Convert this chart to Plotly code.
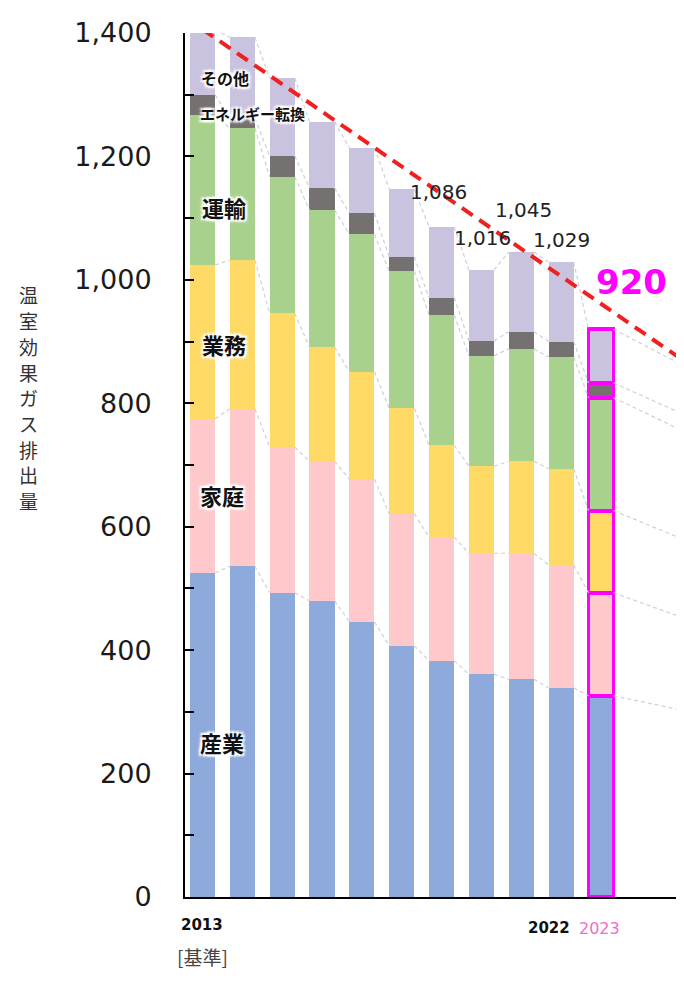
import plotly.graph_objects as go

# ---- data ----
years = [2013, 2014, 2015, 2016, 2017, 2018, 2019, 2020, 2021, 2022, 2023]
next_year = 2030  # bar beyond the visible window (only its connector lines show)

industry  = [525, 536, 493, 480, 446, 407, 383, 361, 353, 339, 326]
household = [250, 255, 236, 226, 231, 214, 200, 196, 204, 199, 167]
business  = [249, 241, 217, 185, 174, 171, 149, 141, 149, 156, 133]
transport = [243, 214, 221, 222, 223, 222, 211, 179, 182, 181, 183]
energy    = [33, 16, 34, 36, 34, 23, 28, 24, 28, 25, 24]
other     = [106, 131, 126, 107, 106, 110, 115, 115, 129, 129, 87]

next_values = {"産業": 240, "家庭": 105, "業務": 112, "運輸": 155, "エネルギー転換": 36, "その他": 58}

labelled_years = [2013, 2019, 2020, 2021, 2022]
path_years = [2013, 2030]
path_values = [1406, 650]

series_names = ["産業", "家庭", "業務", "運輸", "エネルギー転換", "その他"]
series_values = [industry, household, business, transport, energy, other]
series_colors = ["#8EA9DB", "#FFC9CC", "#FFD966", "#A9D18E", "#767171", "#C9C3DF"]

BAR_W = 0.63
MAGENTA = "#FF00FF"

all_x = years + [next_year]
fig = go.Figure()

# cumulative boundaries
cum = []
running = [0] * len(all_x)
for name, vals in zip(series_names, series_values):
    full = vals + [next_values[name]]
    running = [r + v for r, v in zip(running, full)]
    cum.append(running[:])

# grey dashed connectors between bars
for level in cum:
    xs, ys = [], []
    for i in range(len(all_x) - 1):
        xs += [all_x[i] + BAR_W / 2, all_x[i + 1] - BAR_W / 2, None]
        ys += [level[i], level[i + 1], None]
    fig.add_trace(go.Scatter(x=xs, y=ys, mode="lines",
                             line=dict(color="#CDD0D6", width=1.2, dash="4px,3px"),
                             hoverinfo="skip", showlegend=False))

# stacked bars
lw = [0] * (len(years) - 1) + [3.8] + [0]
for name, vals, col in zip(series_names, series_values, series_colors):
    full = vals + [next_values[name]]
    fig.add_trace(go.Bar(x=all_x, y=full, name=name, width=BAR_W,
                         marker=dict(color=col, line=dict(color=MAGENTA, width=lw)),
                         showlegend=False))

# red dashed reduction path
fig.add_trace(go.Scatter(x=path_years, y=path_values, mode="lines",
                         line=dict(color="#F02020", width=4, dash="13px,8px"),
                         hoverinfo="skip", showlegend=False))

totals = [sum(v) for v in zip(*series_values)]

annotations = []
num_font = dict(family="DejaVu Sans", size=20, color="#222222")
shifts = {2013: (19, 17), 2019: (-3, 35), 2020: (1, 32), 2021: (2, 42), 2022: (0, 22)}
for y in labelled_years:
    t = totals[years.index(y)]
    xs_, ys_ = shifts[y]
    f = dict(num_font)
    if y == 2013:
        f["size"] = 21
    annotations.append(dict(x=y, y=t, xref="x", yref="y", text=f"{t:,}", showarrow=False,
                            xshift=xs_, yshift=ys_, font=f, xanchor="center", yanchor="middle"))

# 2023 total in magenta
annotations.append(dict(x=2023, y=totals[-1], xref="x", yref="y", text=f"{totals[-1]:,}",
                        showarrow=False, xshift=31, yshift=47, xanchor="center", yanchor="middle",
                        font=dict(family="DejaVu Sans", size=34, color=MAGENTA, weight="bold")))

# in-bar category labels
halo = "2px 2px 2px white, -2px -2px 2px white, 2px -2px 2px white, -2px 2px 2px white, 0px 0px 3px white"
cat_labels = [
    ("その他", 0.0802, 0.9479, 16),
    ("エネルギー転換", 0.1343, 0.9074, 15),
    ("運輸", 0.0782, 0.7986, 22),
    ("業務", 0.0782, 0.6400, 22),
    ("家庭", 0.0741, 0.4653, 22),
    ("産業", 0.0741, 0.1794, 22),
]
for txt, xp, yp, sz in cat_labels:
    annotations.append(dict(x=xp, y=yp, xref="paper", yref="paper", text=txt, showarrow=False,
                            xanchor="center", yanchor="middle",
                            font=dict(family="Noto Sans CJK JP", size=sz, color="#111111",
                                      weight="bold", shadow=halo)))

# x labels
annotations += [
    dict(x=2013, y=-0.0324, xref="x", yref="paper", text="2013", showarrow=False,
         xanchor="center", yanchor="middle",
         font=dict(family="DejaVu Sans", size=15, color="#111111", weight="bold")),
    dict(x=2013, y=-0.0694, xref="x", yref="paper", text="[基準]", showarrow=False,
         xanchor="center", yanchor="middle",
         font=dict(family="Noto Sans CJK JP", size=19, color="#444444")),
    dict(x=2022, y=-0.0359, xref="x", yref="paper", text="2022", showarrow=False, xshift=-12,
         xanchor="center", yanchor="middle",
         font=dict(family="DejaVu Sans", size=15, color="#111111", weight="bold")),
    dict(x=2023, y=-0.0359, xref="x", yref="paper", text="2023", showarrow=False, xshift=-1,
         xanchor="center", yanchor="middle",
         font=dict(family="DejaVu Sans", size=16, color="#F06EC0")),
]

# y-axis title (vertical, upright characters, one per line)
ytitle = "温室効果ガス排出量"
for k, ch in enumerate(ytitle):
    py = 295 + 25.7 * k
    annotations.append(dict(x=-0.3146, y=(897 - py) / 864, xref="paper", yref="paper",
                            text=ch, showarrow=False, xanchor="center", yanchor="middle",
                            font=dict(family="Noto Sans CJK JP", size=19, color="#333333")))

fig.update_layout(
    barmode="stack",
    width=676, height=989,
    margin=dict(l=177, r=0, t=25, b=100),
    plot_bgcolor="white", paper_bgcolor="white",
    showlegend=False,
    annotations=annotations,
    xaxis=dict(range=[2012.561, 2025.083], showticklabels=False, ticks="", showgrid=False,
               zeroline=False, showline=True, linecolor="black", linewidth=2),
    yaxis=dict(range=[0, 1400], tick0=0, dtick=200, tickformat=",d", ticks="inside",
               ticklen=9, tickwidth=1.5, tickcolor="black", showgrid=False, zeroline=False,
               showline=True, linecolor="black", linewidth=2, ticklabelstandoff=26,
               tickfont=dict(family="DejaVu Sans", size=27, color="#1a1a1a"),
               minor=dict(dtick=100, ticks="inside", ticklen=9, tickwidth=1.5, tickcolor="black")),
)

fig.write_html("out.html")
